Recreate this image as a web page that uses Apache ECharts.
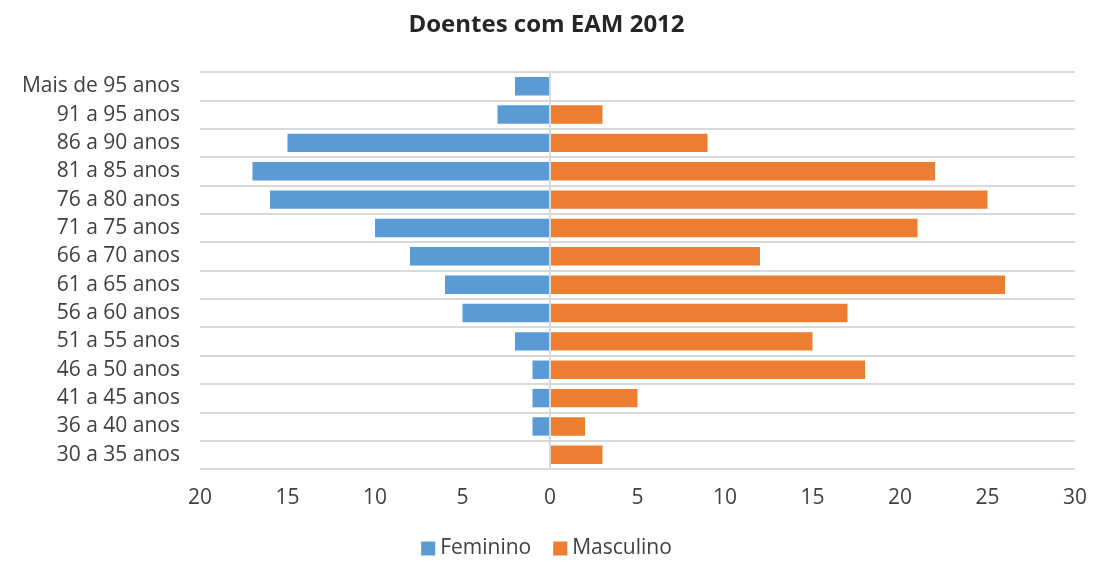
<!DOCTYPE html>
<html>
<head>
<meta charset="utf-8">
<title>Doentes com EAM 2012</title>
<script src="https://cdn.jsdelivr.net/npm/echarts@6/dist/echarts.min.js"></script>
<style>
  html, body { margin: 0; padding: 0; background: #fff; }
  #chart { width: 1093px; height: 564px; }
</style>
</head>
<body>
<div id="chart"></div>
<script>
// categories from bottom to top
const ageGroups = ['30 a 35 anos', '36 a 40 anos', '41 a 45 anos', '46 a 50 anos', '51 a 55 anos',
  '56 a 60 anos', '61 a 65 anos', '66 a 70 anos', '71 a 75 anos', '76 a 80 anos',
  '81 a 85 anos', '86 a 90 anos', '91 a 95 anos', 'Mais de 95 anos'];
const feminino = [0, 1, 1, 1, 2, 5, 6, 8, 10, 16, 17, 15, 3, 2];
const masculino = [3, 2, 5, 18, 15, 17, 26, 12, 21, 25, 22, 9, 3, 0];

const font = '"Open Sans", "DejaVu Sans", sans-serif';
const chart = echarts.init(document.getElementById('chart'));

chart.setOption({
  animation: false,
  title: {
    text: 'Doentes com EAM 2012',
    left: 'center',
    top: 8,
    textStyle: { fontFamily: font, fontSize: 24, fontWeight: 'bold', color: '#262626' }
  },
  legend: {
    bottom: 0,
    left: 'center',
    icon: 'rect',
    itemWidth: 14,
    itemHeight: 14,
    itemGap: 22,
    textStyle: { fontFamily: font, fontSize: 21, color: '#404040' },
    data: ['Feminino', 'Masculino']
  },
  grid: { left: 200, right: 18, top: 72, bottom: 95 },
  xAxis: {
    type: 'value',
    min: -20,
    max: 30,
    interval: 5,
    axisLine: { show: false },
    axisTick: { show: false },
    splitLine: { show: false },
    axisLabel: {
      margin: 19,
      fontFamily: font,
      fontSize: 21,
      color: '#404040',
      formatter: v => Math.abs(v)
    }
  },
  yAxis: {
    type: 'category',
    data: ageGroups,
    axisLine: { show: false },
    axisTick: { show: false },
    splitLine: { show: true, lineStyle: { color: '#d9d9d9', width: 2 } },
    axisLabel: { margin: 20, fontFamily: font, fontSize: 21, color: '#404040' }
  },
  series: [
    {
      name: 'Feminino',
      type: 'bar',
      stack: 'total',
      barCategoryGap: '35%',
      itemStyle: { color: '#5b9bd5' },
      data: feminino.map(v => -v),
      markLine: {
        silent: true,
        symbol: 'none',
        label: { show: false },
        lineStyle: { color: '#d9d9d9', width: 2, type: 'solid' },
        data: [{ xAxis: 0 }]
      }
    },
    {
      name: 'Masculino',
      type: 'bar',
      stack: 'total',
      barCategoryGap: '35%',
      itemStyle: { color: '#ed7d31' },
      data: masculino
    }
  ]
});
</script>
</body>
</html>
